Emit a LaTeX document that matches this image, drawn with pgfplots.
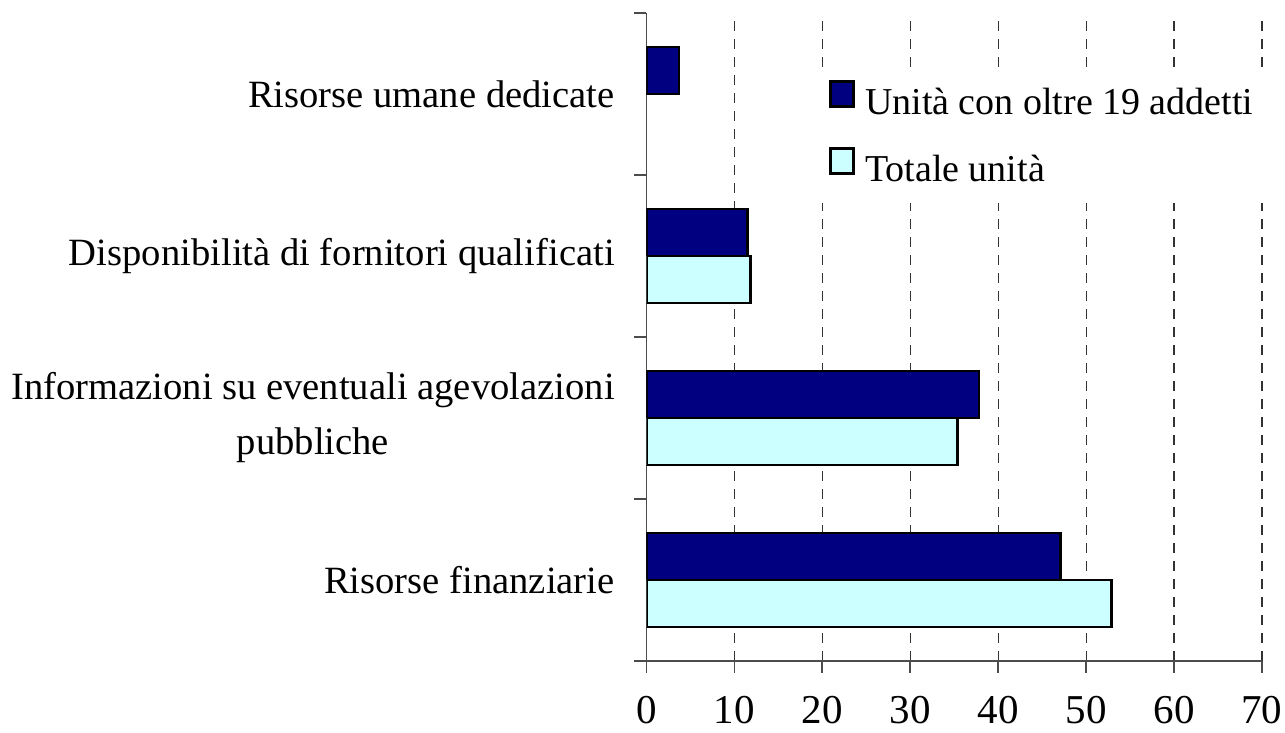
\documentclass[border=0pt]{standalone}
\usepackage{fontspec}
\setmainfont{Liberation Serif}
\usepackage{pgfplots}
\pgfplotsset{compat=1.18}
\definecolor{navyc}{RGB}{0,0,128}
\definecolor{lightc}{RGB}{204,255,255}
\begin{document}
\fontsize{20}{24}\selectfont
\begin{tikzpicture}
\useasboundingbox (-323.2pt,-36pt) rectangle (319.3pt,330.5pt);
\begin{axis}[name=ax, at={(0,0)}, anchor=south west,
 scale only axis, width=307.8pt, height=324pt,
 xbar, xmin=0, xmax=70, ymin=-0.5, ymax=3.5,
 xtick={0,10,...,70},
 ytick={0,1,2,3},
 yticklabels={Risorse finanziarie, {Informazioni su eventuali agevolazioni\\pubbliche}, Disponibilità di fornitori qualificati, Risorse umane dedicate},
 yticklabel style={align=center, font=\fontsize{19.3}{27.5}\selectfont, xshift=-3pt},
 xticklabel style={yshift=-5pt},
 minor ytick={-0.5,0.5,1.5,2.5,3.5},
 axis lines*=left,
 tick align=outside,
 major tick length=6pt, minor tick length=6pt,
 major y tick style={draw=none},
 minor y tick style={black!70, line width=0.8pt},
 major x tick style={black!70, line width=0.8pt},
 axis line style={black!70, line width=0.8pt},
 xmajorgrids, grid style={black!80, line width=0.6pt, dash pattern=on 5pt off 4pt},
 bar width=0.29,
 /pgf/number format/assume math mode=true,
 tick label style={font=\fontsize{20.5}{24}\selectfont},
 legend style={at={(0.274,0.915)}, anchor=north west, draw=none, fill=white, inner xsep=7pt, inner ysep=6pt, row sep=11pt, column sep=3pt, font=\fontsize{19}{23}\selectfont, cells={anchor=west}},
 legend image code/.code={\draw[#1, draw=black, line width=1.3pt] (0pt,-1pt) rectangle (11.5pt,11.5pt);},
]
\addplot[fill=navyc, draw=black, line width=1.3pt, bar shift=0.145] coordinates {(47.1,0) (37.8,1) (11.5,2) (3.7,3)};
\addplot[fill=lightc, draw=black, line width=1.3pt, bar shift=-0.145] coordinates {(52.9,0) (35.4,1) (11.85,2)};
\legend{Unità con oltre 19 addetti, Totale unità}
\end{axis}
\end{tikzpicture}
\end{document}
